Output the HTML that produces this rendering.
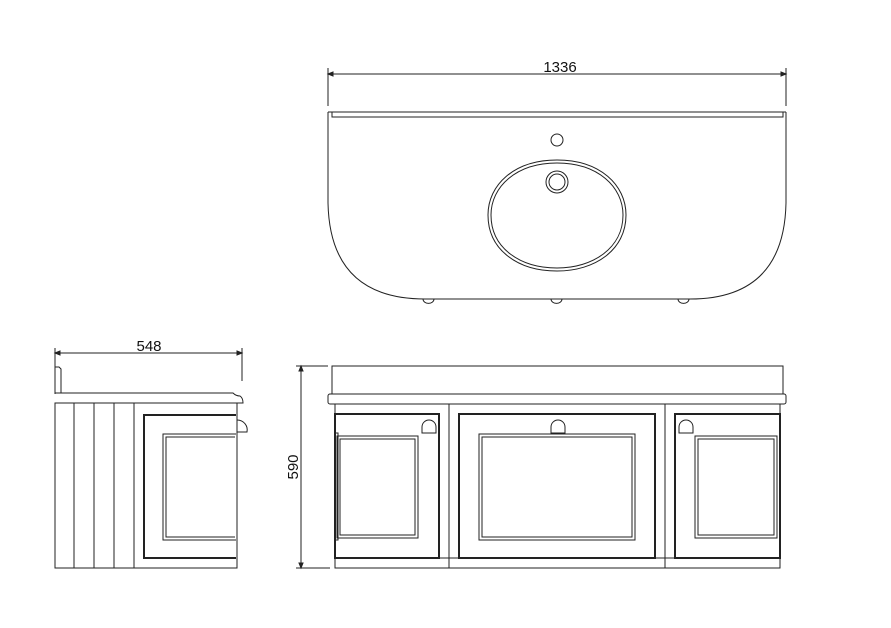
<!DOCTYPE html>
<html><head><meta charset="utf-8"><style>
html,body{margin:0;padding:0;background:#fff;}
svg{display:block;}
text{font-family:"Liberation Sans",sans-serif;font-size:15px;fill:#111;}
</style></head><body>
<svg width="891" height="628" viewBox="0 0 891 628" fill="none" stroke="#222" stroke-width="1">
<!-- Top view -->
<line x1="328" y1="74" x2="786" y2="74"/>
<line x1="328" y1="68" x2="328" y2="106"/>
<line x1="786" y1="68" x2="786" y2="106"/>
<path d="M328 74 l5 -2 v4z M786 74 l-5 -2 v4z" fill="#222"/>
<text x="560" y="72" text-anchor="middle" stroke="none">1336</text>
<line x1="328" y1="112" x2="786" y2="112"/>
<path d="M332 112 v5 h451 v-5"/>
<path d="M328 112 V203 Q330 299 425 299 H690 Q784 299 786 203 V112"/>
<path d="M423 299 a5 4 0 0 0 11 0 M551 299 a5 4 0 0 0 11 0 M678 299 a5 4 0 0 0 11 0"/>
<circle cx="557" cy="140" r="6"/>
<path d="M557 160 C600 160 626 185 626 215 C626 250 595 271 557 271 C518 271 488 250 488 215 C488 185 514 160 557 160Z"/>
<path d="M557 163 C598 163 623 187 623 215 C623 248 593 268 557 268 C520 268 491 248 491 215 C491 187 516 163 557 163Z"/>
<circle cx="557" cy="182" r="11"/>
<circle cx="557" cy="182" r="8"/>
<!-- Side view -->
<line x1="55" y1="353" x2="242" y2="353"/>
<line x1="55" y1="348" x2="55" y2="380"/>
<line x1="242" y1="348" x2="242" y2="381"/>
<path d="M55 353 l5 -2 v4z M242 353 l-5 -2 v4z" fill="#222"/>
<text x="149" y="351" text-anchor="middle" stroke="none">548</text>
<path d="M55 394 V367 h4 l2 2 V393"/>
<path d="M55 393 H233 Q236 396 240 396 Q243 398 243 403 H55"/>
<rect x="55" y="403" width="182" height="165"/>
<line x1="74" y1="403" x2="74" y2="568"/>
<line x1="94" y1="403" x2="94" y2="568"/>
<line x1="114" y1="403" x2="114" y2="568"/>
<line x1="134" y1="403" x2="134" y2="568"/>
<path d="M236 415 H144 V558 H236" stroke-width="2"/>
<path d="M236 434 H163 V540 H236"/>
<path d="M235 437 H166 V537 H235"/>
<path d="M237 420 a10 10 0 0 1 10 12 H237"/>
<!-- 590 dim -->
<line x1="301" y1="366" x2="301" y2="568"/>
<line x1="296" y1="366" x2="328" y2="366"/>
<line x1="296" y1="568" x2="330" y2="568"/>
<path d="M301 366 l-2 5 h4z M301 568 l-2 -5 h4z" fill="#222"/>
<text x="0" y="0" text-anchor="middle" stroke="none" transform="translate(298 467) rotate(-90)">590</text>
<!-- Front view -->
<rect x="332" y="366" width="451" height="28"/>
<rect x="328" y="394" width="458" height="10" rx="2"/>
<rect x="335" y="404" width="445" height="164"/>
<line x1="449" y1="404" x2="449" y2="568"/>
<line x1="665" y1="404" x2="665" y2="568"/>
<line x1="335" y1="558" x2="780" y2="558"/>
<!-- left door -->
<rect x="335" y="414" width="104" height="144" stroke-width="2"/>
<path d="M335 433 H338 V540 H335"/>
<rect x="337" y="436" width="81" height="102"/>
<rect x="340" y="439" width="75" height="96"/>
<path d="M422 433 v-6 a7 7 0 0 1 14 0 v6z"/>
<!-- middle door -->
<rect x="459" y="414" width="196" height="144" stroke-width="2"/>
<rect x="479" y="434" width="156" height="106"/>
<rect x="482" y="437" width="150" height="100"/>
<path d="M551 433 v-6 a7 7 0 0 1 14 0 v6z"/>
<!-- right door -->
<rect x="675" y="414" width="105" height="144" stroke-width="2"/>
<rect x="695" y="436" width="82" height="102"/>
<rect x="698" y="439" width="76" height="96"/>
<path d="M679 433 v-6 a7 7 0 0 1 14 0 v6z"/>
</svg>
</body></html>
